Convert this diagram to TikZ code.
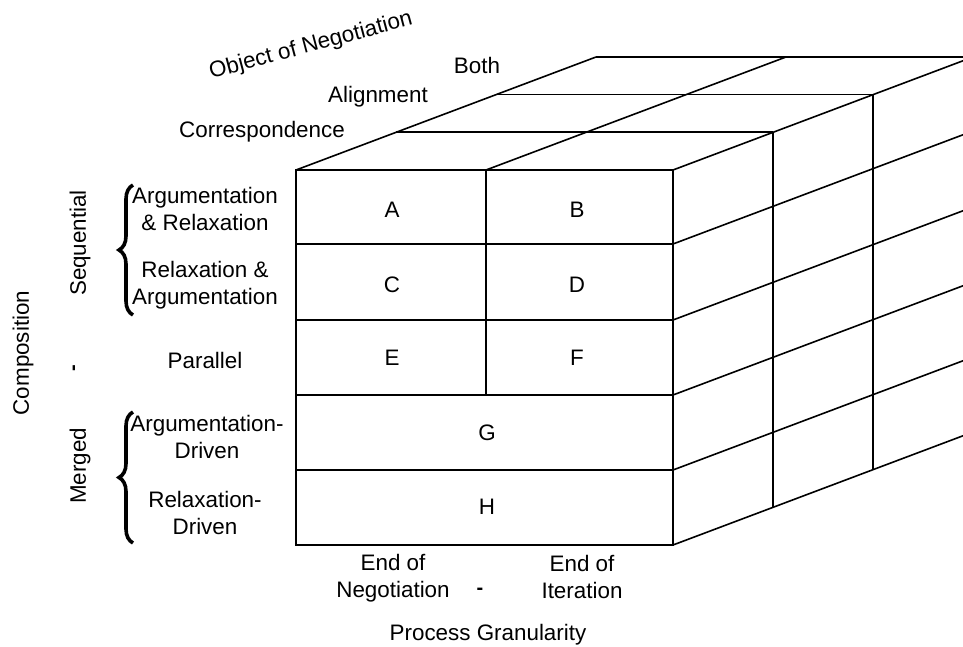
\documentclass[tikz,border=0pt]{standalone}
\usepackage{fontspec}
\setmainfont{Liberation Sans}
\usetikzlibrary{decorations.pathreplacing}

\begin{document}
\begin{tikzpicture}[x=0.5pt,y=-0.5pt,line width=0.8pt,
    lbl/.style={font=\fontsize{11.2}{13.5}\selectfont,align=center,inner sep=0pt},
    curly/.style={decorate,decoration={brace,amplitude=7pt},line width=1.8pt}]
    \useasboundingbox (0,0) rectangle (963,647);
    \begin{scope}
        \clip (0,0) rectangle (963,647);
        % front face
        \draw (296,170) rectangle (673,545);
        \foreach \y in {244,320,395,470}
            \draw (296,\y) -- (673,\y);
        \draw (486,170) -- (486,395);
        % top face
        \foreach \k in {1,2,3}
            \draw (296+100*\k,170-37.7*\k) -- (673+100*\k,170-37.7*\k);
        \foreach \x in {296,486,673}
            \draw (\x,170) -- ++(300,-113);
        % right face
        \foreach \k in {1,2,3}
            \draw (673+100*\k,170-37.7*\k) -- ++(0,375);
        \foreach \y in {244,320,395,470,545}
            \draw (673,\y) -- ++(300,-113);
    \end{scope}

    \node[lbl,rotate=15] (obj) at (311,46) {Object of Negotiation};
    \node[lbl] (both) at (477,65) {Both};
    \node[lbl] (align) at (378,97) {Alignment};
    \node[lbl] (corr) at (262,132) {Correspondence};

    \node[lbl] (a) at (392,210) {A};
    \node[lbl] (b) at (577,210) {B};
    \node[lbl] (c) at (392,285) {C};
    \node[lbl] (d) at (577,285) {D};
    \node[lbl] (e) at (392,358) {E};
    \node[lbl] (f) at (577,358) {F};
    \node[lbl] (g) at (487,433) {G};
    \node[lbl] (h) at (487,507) {H};

    \node[lbl] (argrel) at (205,209) {Argumentation\\\& Relaxation};
    \node[lbl] (relarg) at (205,285) {Relaxation \&\\Argumentation};
    \node[lbl] (par) at (205,360) {Parallel};
    \node[lbl] (argdr) at (207,437) {Argumentation-\\Driven};
    \node[lbl] (reldr) at (205,513) {Relaxation-\\Driven};
    \draw[curly] (133,315) -- (133,185);
    \draw[curly] (133,543) -- (133,412);
    \node[lbl,rotate=90] (seq) at (80,243) {Sequential};
    \node[lbl,rotate=90] (merged) at (80,466) {Merged};
    \node[lbl,rotate=90] (comp) at (23,353) {Composition};
    \node[lbl,font=\bfseries,rotate=90] (dashl) at (76,368) {-};

    \node[lbl] (endneg) at (393,578) {End of\\Negotiation};
    \node[lbl] (endit) at (582,577) {End of\\Iteration};
    \node[lbl,font=\bfseries] (dashb) at (480,591) {-};
    \node[lbl] (gran) at (488,635) {Process Granularity};
\end{tikzpicture}
\end{document}
